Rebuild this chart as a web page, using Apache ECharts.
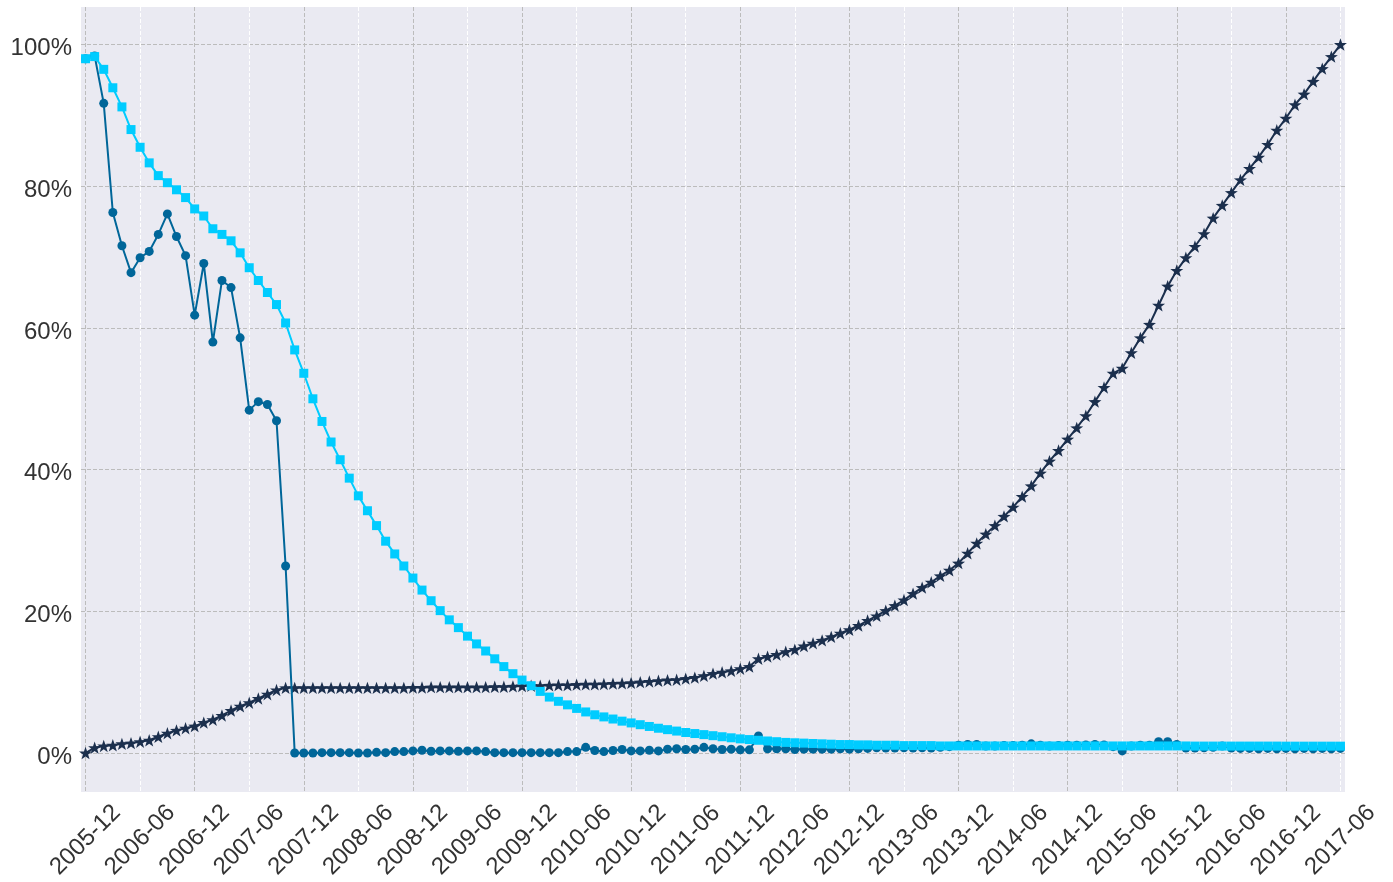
<!DOCTYPE html>
<html><head><meta charset="utf-8">
<script src="https://cdn.jsdelivr.net/npm/echarts@6/dist/echarts.min.js"></script>
<style>html,body{margin:0;padding:0;background:#fff}#chart{width:1393px;height:882px}</style>
</head><body><div id="chart"></div>
<script>
// Monthly categories from 2005-12 to 2017-06
const startYear = 2005, startMonth = 12, monthCount = 139;
const months = [];
for (let k = 0; k < monthCount; k++) {
  const m = startMonth - 1 + k;
  const y = startYear + Math.floor(m / 12);
  const mm = (m % 12) + 1;
  months.push(y + '-' + (mm < 10 ? '0' : '') + mm);
}
const yTickValues = [0, 20, 40, 60, 80, 100];

// cyan squares (percent)
const squareValues = [
  98.0, 98.3, 96.5, 93.9, 91.2, 88.0, 85.5, 83.3, 81.5, 80.5, 79.5, 78.4,
  76.8, 75.8, 74.0, 73.2, 72.3, 70.6, 68.5, 66.7, 65.0, 63.3, 60.7, 56.9,
  53.6, 50.0, 46.8, 43.9, 41.4, 38.8, 36.3, 34.2, 32.1, 29.9, 28.1, 26.4,
  24.7, 23.0, 21.5, 20.1, 18.8, 17.7, 16.5, 15.4, 14.4, 13.3, 12.2, 11.2,
  10.3, 9.5, 8.7, 7.9, 7.3, 6.8, 6.3, 5.8, 5.4, 5.1, 4.8, 4.5,
  4.25, 4.0, 3.75, 3.5, 3.3, 3.1, 2.9, 2.75, 2.6, 2.45, 2.3, 2.15,
  2.0, 1.9, 1.8, 1.7, 1.6, 1.5, 1.45, 1.4, 1.35, 1.3, 1.25, 1.2,
  1.2, 1.15, 1.15, 1.1, 1.1, 1.1, 1.05, 1.05, 1.05, 1.05, 1.0, 1.0,
  1.0, 1.0, 1.0, 1.0, 1.0, 1.0, 1.0, 1.0, 1.0, 1.0, 1.0, 1.0,
  1.0, 1.0, 1.0, 1.0, 1.0, 1.0, 1.0, 1.0, 1.0, 1.0, 1.0, 1.0,
  1.0, 1.0, 0.98, 0.98, 0.98, 0.98, 0.98, 0.98, 0.98, 0.98, 0.98, 0.98,
  0.97, 0.97, 0.97, 0.97, 0.97, 0.97, 0.97
];

// dark teal circles (percent)
const circleValues = [
  98.0, 98.4, 91.7, 76.3, 71.6, 67.8, 69.9, 70.8, 73.2, 76.1, 72.9, 70.2,
  61.8, 69.1, 58.0, 66.7, 65.7, 58.6, 48.4, 49.6, 49.2, 46.9, 26.4, 0.0,
  0.0, 0.0, 0.05, 0.05, 0.05, 0.05, 0.0, 0.0, 0.1, 0.05, 0.2, 0.2,
  0.3, 0.4, 0.25, 0.3, 0.3, 0.25, 0.3, 0.3, 0.2, 0.05, 0.05, 0.05,
  0.05, 0.05, 0.05, 0.05, 0.05, 0.2, 0.2, 0.8, 0.35, 0.2, 0.35, 0.5,
  0.3, 0.3, 0.4, 0.3, 0.55, 0.6, 0.5, 0.55, 0.8, 0.6, 0.5, 0.55,
  0.45, 0.45, 2.4, 0.6, 0.6, 0.6, 0.5, 0.55, 0.55, 0.55, 0.55, 0.6,
  0.55, 0.6, 0.65, 0.75, 0.7, 0.7, 0.75, 0.7, 0.75, 0.7, 0.8, 0.9,
  1.1, 1.2, 1.2, 1.0, 1.0, 1.05, 1.05, 1.1, 1.3, 1.1, 1.0, 1.05,
  1.1, 1.1, 1.15, 1.2, 1.15, 0.9, 0.3, 1.0, 1.1, 1.1, 1.6, 1.6,
  1.2, 0.7, 0.7, 0.75, 0.8, 1.0, 0.7, 0.65, 0.65, 0.6, 0.65, 0.6,
  0.65, 0.6, 0.65, 0.6, 0.65, 0.6, 0.65
];

// navy stars (percent)
const starValues = [
  0.0, 0.75, 1.0, 1.1, 1.3, 1.4, 1.6, 1.8, 2.3, 2.8, 3.2, 3.5,
  3.8, 4.3, 4.7, 5.3, 6.0, 6.6, 7.1, 7.7, 8.3, 8.9, 9.2, 9.2,
  9.2, 9.2, 9.2, 9.2, 9.2, 9.2, 9.2, 9.2, 9.2, 9.2, 9.2, 9.2,
  9.25, 9.25, 9.3, 9.3, 9.3, 9.3, 9.3, 9.3, 9.3, 9.35, 9.35, 9.4,
  9.45, 9.5, 9.5, 9.55, 9.6, 9.6, 9.65, 9.7, 9.7, 9.75, 9.8, 9.85,
  9.9, 10.0, 10.1, 10.2, 10.3, 10.35, 10.5, 10.65, 10.9, 11.2, 11.4, 11.6,
  11.9, 12.2, 13.3, 13.6, 13.9, 14.3, 14.6, 15.1, 15.5, 15.9, 16.4, 16.9,
  17.4, 18.0, 18.7, 19.35, 20.1, 20.8, 21.6, 22.5, 23.35, 24.1, 25.0, 25.8,
  26.8, 28.2, 29.6, 30.9, 32.1, 33.4, 34.7, 36.2, 37.7, 39.5, 41.2, 42.7,
  44.3, 45.9, 47.6, 49.6, 51.6, 53.6, 54.3, 56.5, 58.6, 60.5, 63.2, 65.9,
  68.1, 69.9, 71.5, 73.3, 75.5, 77.3, 79.1, 80.9, 82.5, 84.1, 85.9, 87.9,
  89.6, 91.5, 93.0, 94.8, 96.6, 98.3, 100
];

const starPath = 'path://M0,-10L2.35,-3.24L9.51,-3.09L3.8,1.24L5.88,8.09L0,4L-5.88,8.09L-3.8,1.24L-9.51,-3.09L-2.35,-3.24Z';
const FONT = '"Liberation Sans", Arial, sans-serif';
const TXT = '#333333';
const DASH = [4, 2];

const chart = echarts.init(document.getElementById('chart'));
chart.setOption({
  animation: false,
  backgroundColor: '#ffffff',
  grid: { left: 81, right: 48, top: 7, bottom: 90, show: true, backgroundColor: '#eaeaf2', borderWidth: 0 },
  xAxis: [{
    type: 'category', data: months, boundaryGap: true, z: 1,
    axisLine: { show: false }, axisTick: { show: false },
    axisLabel: {
      interval: function (idx) { return idx % 6 === 0; },
      rotate: 45, align: 'center', verticalAlign: 'middle', margin: 48,
      fontSize: 24, fontFamily: FONT, color: TXT
    },
    splitLine: {
      show: true, alignWithLabel: true,
      interval: function (idx) { return idx % 12 === 0; },
      lineStyle: { color: '#bcbcbc', width: 1, type: DASH }
    }
  }, {
    type: 'category', data: months, boundaryGap: true, position: 'bottom', z: 0,
    axisLine: { show: false }, axisTick: { show: false }, axisLabel: { show: false },
    splitLine: {
      show: true, alignWithLabel: true,
      interval: function (idx) { return idx % 12 === 6; },
      lineStyle: { color: '#ffffff', width: 1, type: DASH }
    }
  }],
  yAxis: {
    type: 'value', min: -5.5, max: 105.3,
    axisLine: { show: false },
    axisTick: { show: false, customValues: yTickValues },
    axisLabel: {
      customValues: yTickValues, formatter: '{a|{value}%}', margin: 9,
      rich: { a: { fontSize: 24, fontFamily: FONT, color: TXT, padding: [8, 0, 0, 0] } }
    },
    splitLine: { show: true, lineStyle: { color: '#bcbcbc', width: 1, type: DASH } }
  },
  series: [
    { type: 'line', data: starValues, xAxisIndex: 0, symbol: starPath, symbolSize: 13, symbolKeepAspect: true, showAllSymbol: true,
      lineStyle: { color: '#1b2f4d', width: 2 }, itemStyle: { color: '#1b2f4d' }, z: 2 },
    { type: 'line', data: circleValues, xAxisIndex: 0, symbol: 'circle', symbolSize: 9, showAllSymbol: true,
      lineStyle: { color: '#006699', width: 2 }, itemStyle: { color: '#006699' }, z: 3 },
    { type: 'line', data: squareValues, xAxisIndex: 0, symbol: 'rect', symbolSize: 9, showAllSymbol: true,
      lineStyle: { color: '#00ccff', width: 2 }, itemStyle: { color: '#00ccff' }, z: 4 }
  ]
});
</script></body></html>
